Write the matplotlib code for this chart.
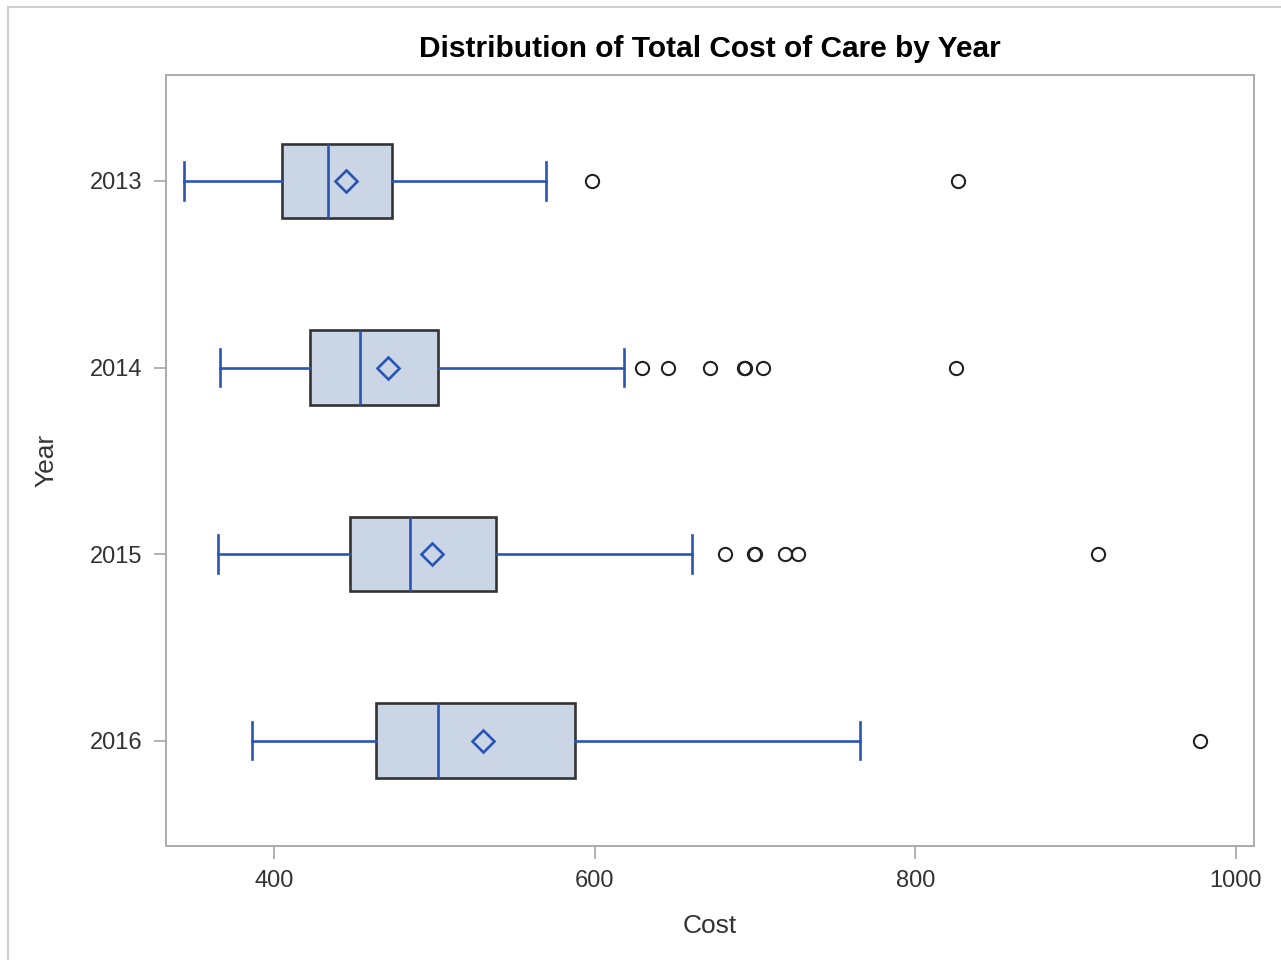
import matplotlib
matplotlib.use("Agg")
import matplotlib.pyplot as plt
from matplotlib.patches import Rectangle

plt.rcParams['font.family'] = ['Liberation Sans', 'DejaVu Sans']

# ---- data ----
years = ["2013", "2014", "2015", "2016"]
whisker_low = [343.5, 366.3, 364.7, 386.0]
q1 = [404.6, 422.1, 447.2, 463.5]
median = [433.3, 453.5, 484.7, 502.3]
mean = [444.5, 470.7, 498.2, 529.9]
q3 = [473.6, 502.1, 538.3, 587.9]
whisker_high = [569.5, 618.2, 660.6, 765.6]
outliers = [
    [598.2, 826.5],
    [629.3, 645.4, 671.8, 692.8, 693.4, 705.1, 825.3],
    [681.4, 699.3, 699.8, 718.8, 726.9, 914.0],
    [977.4],
]
x_ticks = [400, 600, 800, 1000]

title = "Distribution of Total Cost of Care by Year"
x_label = "Cost"
y_label = "Year"

# ---- styles ----
box_fill = "#CAD5E5"
box_edge = "#333333"
blue = "#2A55B5"
spine_col = "#A8ACAE"
text_col = "#333333"

fig = plt.figure(figsize=(12.81, 9.6), dpi=100)
ax = fig.add_axes([165.7 / 1281, 1 - 846 / 960, (1254 - 165.7) / 1281, (846 - 75) / 960])

stats = []
for i, y in enumerate(years):
    stats.append(dict(label=y, whislo=whisker_low[i], q1=q1[i], med=median[i],
                      q3=q3[i], whishi=whisker_high[i], mean=mean[i], fliers=outliers[i]))

positions = list(range(len(years)))
ax.bxp(stats, positions=positions, widths=0.4, vert=False, patch_artist=True,
       showmeans=True, showfliers=True,
       boxprops=dict(facecolor=box_fill, edgecolor=box_edge, linewidth=1.9),
       medianprops=dict(color=blue, linewidth=1.9),
       whiskerprops=dict(color=blue, linewidth=1.9),
       capprops=dict(color=blue, linewidth=1.9),
       meanprops=dict(marker="D", markersize=11, markerfacecolor="none",
                      markeredgecolor=blue, markeredgewidth=1.9),
       flierprops=dict(marker="o", markersize=9.5, markerfacecolor="none",
                       markeredgecolor="#222222", markeredgewidth=1.5))

ax.set_ylim(3.565, -0.568)
ax.set_xlim(332.2, 1011.3)
ax.set_xticks(x_ticks)
ax.set_xticklabels([str(t) for t in x_ticks])
ax.set_yticks(positions)
ax.set_yticklabels(years)

for s in ax.spines.values():
    s.set_color(spine_col)
    s.set_linewidth(1.4)
ax.tick_params(axis="both", colors=spine_col, labelcolor=text_col, labelsize=17,
               length=9, width=1.3, pad=8)

ax.set_title(title, fontsize=21.5, fontweight="bold", color="black", pad=13)
ax.set_xlabel(x_label, fontsize=19, color=text_col, labelpad=16)
ax.set_ylabel(y_label, fontsize=19, color=text_col, labelpad=22)

# outer frame
fig.patches.append(Rectangle((8 / 1281, -0.1), 1.2, 1 - 7 / 960 + 0.1, transform=fig.transFigure,
                             fill=False, edgecolor="#D0D0D0", linewidth=1.5))

fig.savefig("out.png", dpi=100)
